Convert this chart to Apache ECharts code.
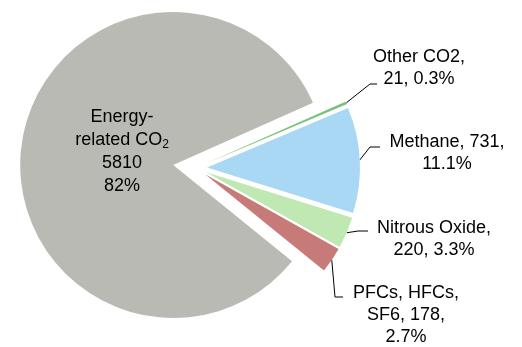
<!DOCTYPE html>
<html>
<head>
<meta charset="utf-8">
<script src="https://cdn.jsdelivr.net/npm/echarts@6/dist/echarts.min.js"></script>
<style>
html,body{margin:0;padding:0;background:#fff;}
#chart{width:522px;height:347px;}
</style>
</head>
<body>
<div id="chart"></div>
<script>
// Data
const categories = ['Other CO2', 'Methane', 'Nitrous Oxide', 'PFCs, HFCs, SF6', 'Energy-related CO2'];
const amounts = [21, 731, 220, 178, 5810];
const percents = [0.3, 11.1, 3.3, 2.7, 82];
const percentLabels = ['0.3%', '11.1%', '3.3%', '2.7%', '82%'];
const labelTexts = [
  'Other CO2,\n21, 0.3%',
  'Methane, 731,\n11.1%',
  'Nitrous Oxide,\n220, 3.3%',
  'PFCs, HFCs,\nSF6, 178,\n2.7%',
  '{t|Energy-}\n{t|related CO}{s|2}\n{t|5810}\n{t|82%}'
];
const colors = ['#77C27A', '#A9D8F5', '#BFE8B2', '#C77B79', '#BABAB5'];

// Layout (positions, not data): label centres and leader-line bend/end points
const labelPos = [
  [419, 68], [447, 153.5], [434, 239], [406, 315], [122, 152]
];
const leaderBend = [
  [[370, 84], [377, 84]],
  [[370, 147], [380, 147]],
  [[358, 231], [368, 231]],
  [[335, 297], [343, 297]],
  null
];
const explode = [11, 11, 11, 11, 23];
const CX = 196, CY = 168, R = 153, START = 24;
const FONT = 'Liberation Sans, Arial, sans-serif';
const chart = echarts.init(document.getElementById('chart'), null, {renderer: 'canvas'});

const total = percents.reduce((a, b) => a + b, 0);
const bigIdx = 4;

function sliceCenter(k) {
  let cum = 0;
  for (let i = 0; i < k; i++) cum += percents[i];
  const a0 = START - 360 * cum / total;
  const a1 = a0 - 360 * percents[k] / total;
  const mid = (a0 + a1) / 2 * Math.PI / 180;
  return [CX + explode[k] * Math.cos(mid), CY - explode[k] * Math.sin(mid)];
}

function layoutFn(p) {
  const i = p.dataIndex;
  const out = { x: labelPos[i][0], y: labelPos[i][1], align: 'center', verticalAlign: 'middle' };
  if (leaderBend[i] && p.labelLinePoints && p.labelLinePoints.length) {
    out.labelLinePoints = [p.labelLinePoints[0].slice(), leaderBend[i][0], leaderBend[i][1]];
  }
  return out;
}

const series = categories.map((c, k) => {
  const isBig = k === bigIdx;
  return {
    type: 'pie',
    name: c,
    center: sliceCenter(k),
    radius: R,
    startAngle: START,
    clockwise: true,
    avoidLabelOverlap: false,
    silent: true,
    animation: false,
    emphasis: { disabled: true, scale: false },
    data: categories.map((n, i) => ({
      name: n,
      value: percents[i],
      itemStyle: { color: i === k ? colors[i] : 'rgba(0,0,0,0)', borderWidth: 0 },
      label: { show: i === k },
      labelLine: { show: i === k && !isBig }
    })),
    label: isBig ? {
      position: 'inside',
      formatter: p => labelTexts[p.dataIndex],
      color: '#000',
      rich: {
        t: { fontFamily: FONT, fontSize: 18, color: '#000', lineHeight: 23, align: 'center' },
        s: { fontFamily: FONT, fontSize: 12, color: '#000', lineHeight: 23, padding: [8, 0, 0, 0], align: 'center' }
      }
    } : {
      position: 'outside',
      formatter: p => labelTexts[p.dataIndex],
      fontFamily: FONT,
      fontSize: 18,
      lineHeight: 22,
      color: '#000'
    },
    labelLine: {
      length: 10,
      length2: 9,
      lineStyle: { color: '#000', width: 1 }
    },
    labelLayout: layoutFn
  };
});

chart.setOption({ animation: false, series: series });
</script>
</body>
</html>
